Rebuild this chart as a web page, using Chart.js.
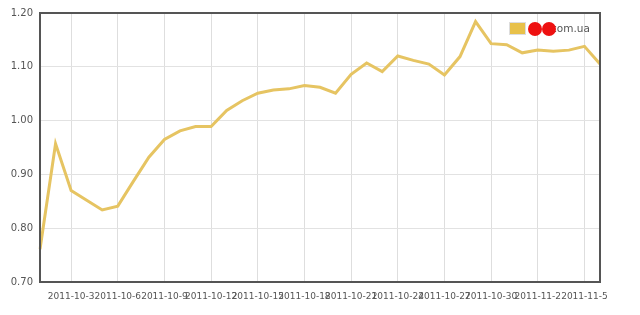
<!DOCTYPE html>
<html lang="uk">
<head>
    <meta charset="UTF-8">
    <title>com.ua</title>
    <script src="https://cdn.jsdelivr.net/npm/chart.js"></script>
    <style>
        html, body {
            margin: 0;
            padding: 0;
            background: #ffffff;
        }
        .chart-box {
            width: 640px;
            height: 315px;
            position: relative;
        }
    </style>
</head>
<body>
    <div class="chart-box">
        <canvas id="rateChart"></canvas>
    </div>

    <script>
        // dni (oś X)
        const dates = [
            '2011-10-1', '2011-10-2', '2011-10-3', '2011-10-4', '2011-10-5', '2011-10-6',
            '2011-10-7', '2011-10-8', '2011-10-9', '2011-10-10', '2011-10-11', '2011-10-12',
            '2011-10-13', '2011-10-14', '2011-10-15', '2011-10-16', '2011-10-17', '2011-10-18',
            '2011-10-19', '2011-10-20', '2011-10-21', '2011-10-22', '2011-10-23', '2011-10-24',
            '2011-10-25', '2011-10-26', '2011-10-27', '2011-10-28', '2011-10-29', '2011-10-30',
            '2011-10-31', '2011-11-1', '2011-11-2', '2011-11-3', '2011-11-4', '2011-11-5',
            '2011-11-6'
        ];

        const rates = [
            0.761, 0.957, 0.870, 0.852, 0.834, 0.841,
            0.887, 0.932, 0.965, 0.981, 0.989, 0.989,
            1.019, 1.037, 1.051, 1.057, 1.059, 1.065,
            1.062, 1.051, 1.086, 1.107, 1.091, 1.120,
            1.112, 1.105, 1.085, 1.119, 1.184, 1.143,
            1.141, 1.126, 1.131, 1.129, 1.131, 1.138,
            1.105
        ];

        const seriesName = 'com.ua';
        const yTicks = [0.70, 0.80, 0.90, 1.00, 1.10, 1.20];
        const lineColor = '#e6c462';

        // ramka wokół obszaru wykresu + legenda w środku
        const framePlugin = {
            id: 'frame',
            afterDraw(chart) {
                const { ctx, chartArea } = chart;
                ctx.save();
                ctx.strokeStyle = '#555555';
                ctx.lineWidth = 2;
                ctx.strokeRect(chartArea.left, chartArea.top, chartArea.right - chartArea.left, chartArea.bottom - chartArea.top);

                // legenda
                const lx = chartArea.right - 90;
                const ly = chartArea.top + 10;
                ctx.fillStyle = '#e8c14a';
                ctx.fillRect(lx, ly, 15, 11);
                ctx.strokeStyle = '#dddddd';
                ctx.lineWidth = 1;
                ctx.strokeRect(lx - 0.5, ly - 0.5, 16, 12);

                ctx.fillStyle = '#555555';
                ctx.font = '10.5px "DejaVu Sans", sans-serif';
                ctx.textBaseline = 'middle';
                ctx.fillText(chart.data.datasets[0].label, lx + 41, ly + 6);

                ctx.fillStyle = '#ee1111';
                [lx + 25, lx + 39].forEach(cx => {
                    ctx.beginPath();
                    ctx.arc(cx, ly + 6, 7, 0, Math.PI * 2);
                    ctx.fill();
                });
                ctx.restore();
            }
        };

        const ctx = document.getElementById('rateChart').getContext('2d');
        const rateChart = new Chart(ctx, {
            type: 'line',
            data: {
                labels: dates,
                datasets: [{
                    label: seriesName,
                    data: rates,
                    borderColor: lineColor,
                    borderWidth: 3,
                    pointRadius: 0,
                    tension: 0,
                    fill: false
                }]
            },
            options: {
                responsive: true,
                maintainAspectRatio: false,
                animation: false,
                devicePixelRatio: 1,
                layout: {
                    padding: { top: 12, right: 40, bottom: 0, left: 0 }
                },
                plugins: {
                    legend: { display: false },
                    tooltip: { enabled: false }
                },
                scales: {
                    x: {
                        offset: false,
                        afterFit: scale => { scale.height = 33; },
                        grid: {
                            color: '#dedede',
                            drawTicks: false
                        },
                        border: { display: false },
                        ticks: {
                            autoSkip: false,
                            maxRotation: 0,
                            minRotation: 0,
                            padding: 9,
                            color: '#555555',
                            font: { family: 'DejaVu Sans', size: 9 },
                            callback: function (value, index) {
                                return (index - 2) % 3 === 0 ? dates[index] : null;
                            }
                        }
                    },
                    y: {
                        min: yTicks[0],
                        max: yTicks[yTicks.length - 1],
                        afterFit: scale => { scale.width = 40; },
                        afterBuildTicks: scale => {
                            scale.ticks = yTicks.map(v => ({ value: v }));
                        },
                        grid: {
                            color: '#e2e2e2',
                            drawTicks: false
                        },
                        border: { display: false },
                        ticks: {
                            padding: 7,
                            color: '#555555',
                            font: { family: 'DejaVu Sans', size: 10 },
                            callback: value => Number(value).toFixed(2)
                        }
                    }
                }
            },
            plugins: [framePlugin]
        });
    </script>
</body>
</html>
